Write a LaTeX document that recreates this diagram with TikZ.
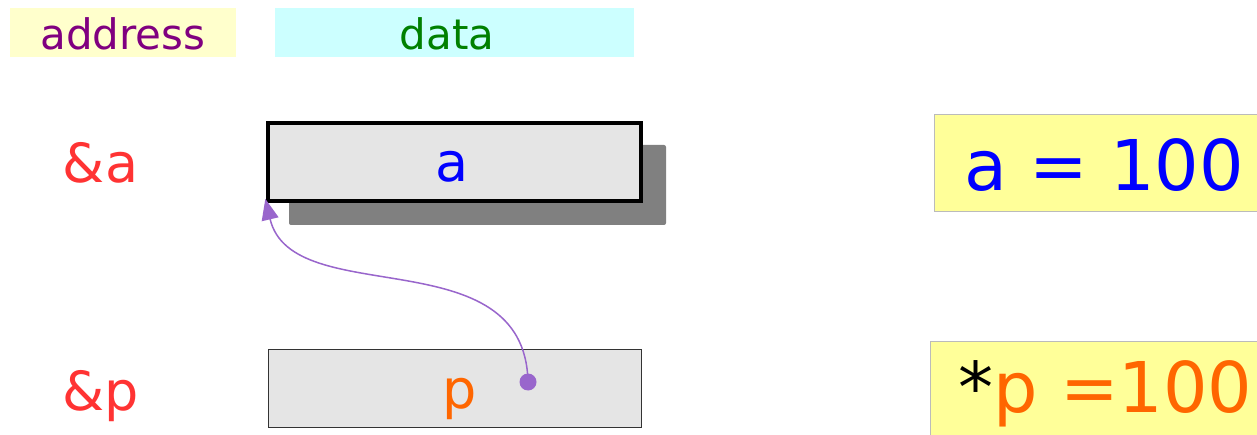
\documentclass[tikz,border=0pt]{standalone}
\usepackage{fontspec}
\setmainfont{DejaVu Sans}
\usetikzlibrary{arrows.meta}
\definecolor{hdryellow}{HTML}{FFFFCC}
\definecolor{hdrcyan}{HTML}{CCFFFF}
\definecolor{addrpurple}{HTML}{800080}
\definecolor{datagreen}{HTML}{008000}
\definecolor{refred}{HTML}{FF3333}
\definecolor{cellgray}{HTML}{E5E5E5}
\definecolor{shadowgray}{HTML}{808080}
\definecolor{varblue}{HTML}{0000FF}
\definecolor{ptrorange}{HTML}{FF6600}
\definecolor{ptrpurple}{HTML}{9966CC}
\definecolor{notefill}{HTML}{FFFF99}
\definecolor{noteedge}{HTML}{BBBBBB}
\tikzset{
  header/.style={rectangle, inner sep=0pt, minimum height=49pt,
    font=\fontsize{42}{48}\selectfont, text height=35pt, text depth=0pt},
  addrlabel/.style={inner sep=0pt, text=refred,
    font=\fontsize{54}{60}\selectfont, text height=40pt, text depth=0pt},
  cell/.style={rectangle, fill=cellgray, inner sep=0pt,
    minimum width=373pt, minimum height=78pt,
    font=\fontsize{54}{60}\selectfont, text height=40pt, text depth=0pt},
  note/.style={rectangle, fill=notefill, draw=noteedge, line width=1pt,
    inner sep=0pt, font=\fontsize{70}{80}\selectfont, text depth=0pt},
  ptr/.style={draw=ptrpurple, line width=1.5pt, shorten >=-4pt,
    -{Triangle[length=21pt,width=17pt]}},
  ptrdot/.style={circle, fill=ptrpurple, inner sep=0pt, minimum size=17pt}
}
\begin{document}
\begin{tikzpicture}[x=1pt,y=-1pt]
  \clip (0,0) rectangle (1257,435);
  \fill[white] (0,0) rectangle (1257,435);

  % column headers
  \node[header, fill=hdryellow, minimum width=226pt, text=addrpurple] (addr) at (123,32.5) {address};
  \node[header, fill=hdrcyan, minimum width=359pt, text=datagreen] (data) at (454.5,32.5) {data\hspace*{15pt}};

  % address labels
  \node[addrlabel] (amark) at (100.5,163) {\&a};
  \node[addrlabel] (pmark) at (100.5,390) {\&p};

  % variable a with its shadow
  \fill[shadowgray, rounded corners=2pt] (289,145) rectangle (666,225);
  \node[cell, draw=black, line width=3.5pt, text=varblue] (abox) at (454.5,162) {a\hspace*{5pt}};

  % pointer p
  \node[cell, draw=black!80, line width=0.8pt, text=ptrorange] (pbox) at (454.5,388.5) {\hspace*{11pt}p};

  % values
  \node[note, minimum width=340pt, minimum height=97pt, text height=55pt, text=varblue] (aval) at (1104,163.5) {a = 100};
  \node[note, minimum width=350pt, minimum height=100pt, text height=42pt] (pval) at (1105.5,391) {*\textcolor{ptrorange}{p =100}};

  % p points to a
  \coordinate (dotc) at (528,382);
  \draw[ptr] (dotc) .. controls (525,236) and (292,312) .. (abox.south west);
  \node[ptrdot] (dot) at (dotc) {};
\end{tikzpicture}
\end{document}
